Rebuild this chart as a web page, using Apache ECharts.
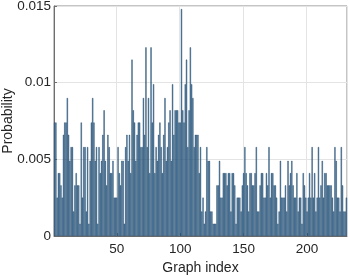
<!DOCTYPE html>
<html>
<head>
<meta charset="utf-8">
<script src="https://cdn.jsdelivr.net/npm/echarts@6/dist/echarts.min.js"></script>
<style>
html,body{margin:0;padding:0;background:#fff;}
#chart{width:349px;height:276px;}
</style>
</head>
<body>
<div id="chart"></div>
<script>
const probabilities = [
0.0074,0.0074,0.0025,0.0041,0.0041,0.0033,0.0025,0.0066,0.0074,0.0074,
0.0090,0.0066,0.0049,0.0058,0.0058,0.0016,0.0033,0.0041,0.0033,0.0033,
0.0008,0.0074,0.0025,0.0058,0.0058,0.0016,0.0058,0.0008,0.0049,0.0074,
0.0090,0.0074,0.0049,0.0058,0.0008,0.0058,0.0041,0.0049,0.0066,0.0082,
0.0049,0.0033,0.0066,0.0058,0.0041,0.0041,0.0049,0.0025,0.0025,0.0025,
0.0058,0.0041,0.0033,0.0049,0.0049,0.0008,0.0058,0.0066,0.0049,0.0066,
0.0041,0.0115,0.0082,0.0074,0.0049,0.0066,0.0074,0.0074,0.0058,0.0058,
0.0090,0.0066,0.0123,0.0058,0.0090,0.0041,0.0123,0.0074,0.0099,0.0041,
0.0058,0.0049,0.0066,0.0074,0.0058,0.0041,0.0066,0.0090,0.0049,0.0058,
0.0074,0.0082,0.0049,0.0099,0.0066,0.0082,0.0082,0.0082,0.0074,0.0074,
0.0148,0.0082,0.0074,0.0099,0.0115,0.0058,0.0082,0.0123,0.0099,0.0090,
0.0058,0.0066,0.0066,0.0066,0.0041,0.0058,0.0016,0.0025,0.0008,0.0016,
0.0058,0.0049,0.0049,0.0016,0.0016,0.0008,0.0008,0.0008,0.0033,0.0033,
0.0049,0.0025,0.0025,0.0041,0.0041,0.0041,0.0033,0.0041,0.0041,0.0016,
0.0041,0.0041,
0.0033,0.0008,0.0025,0.0025,0.0025,0.0016,0.0033,0.0041,0.0058,0.0041,
0.0033,0.0016,0.0041,0.0041,0.0033,0.0033,0.0041,0.0058,0.0016,0.0016,
0.0033,0.0041,0.0041,0.0025,0.0025,0.0041,0.0033,0.0058,0.0025,0.0041,
0.0041,0.0033,0.0033,0.0025,0.0008,0.0016,0.0049,0.0025,0.0025,0.0025,
0.0033,0.0016,0.0049,0.0033,0.0041,
0.0049,0.0033,0.0025,0.0025,0.0041,0.0016,0.0025,0.0025,0.0008,0.0041,
0.0033,0.0025,0.0016,0.0025,0.0041,0.0025,0.0058,0.0025,0.0041,0.0016,
0.0025,0.0058,0.0025,0.0033,0.0049,0.0025,0.0041,0.0041,0.0033,0.0033,
0.0033,0.0033,0.0025,0.0016,0.0058,0.0049,0.0025,0.0025,0.0016,0.0058,
0.0033,0.0016,0.0016,0.0025
];
const graphIndex = probabilities.map((_, i) => String(i + 1));
const xTickLabels = ['50', '100', '150', '200'];
const yTickValues = [0, 0.005, 0.01, 0.015];
const yTickLabels = ['0', '0.005', '0.01', '0.015'];
const xTitle = 'Graph index';
const yTitle = 'Probability';

const chart = echarts.init(document.getElementById('chart'), null, {renderer: 'canvas'});
const isTick = (idx, val) => xTickLabels.includes(String(val));
const font = 'Liberation Sans, Arial, Helvetica, sans-serif';
chart.setOption({
  animation: false,
  grid: {left: 54, right: 2, top: 6, bottom: 40, containLabel: false, outerBoundsMode: 'none',
         show: true, borderColor: '#8a8a8a', borderWidth: 1},
  xAxis: {
    type: 'category',
    data: graphIndex,
    boundaryGap: true,
    name: xTitle,
    nameLocation: 'middle',
    nameGap: 25,
    nameMoveOverlap: false,
    nameTextStyle: {fontSize: 14, color: '#262626', fontFamily: font},
    axisLine: {show: true, lineStyle: {color: '#6e6e6e', width: 1}},
    axisTick: {show: true, inside: true, length: 3, alignWithLabel: true, interval: isTick, lineStyle: {color: '#6e6e6e'}},
    axisLabel: {interval: isTick, fontSize: 13.5, color: '#262626', margin: 6, fontFamily: font},
    splitLine: {show: true, interval: isTick, lineStyle: {color: '#e4e4e4', width: 1}}
  },
  yAxis: {
    type: 'value',
    min: 0,
    max: 0.015,
    interval: 0.005,
    name: yTitle,
    nameLocation: 'middle',
    nameGap: 39,
    nameMoveOverlap: false,
    nameTextStyle: {fontSize: 14, color: '#262626', fontFamily: font},
    axisLine: {show: true, lineStyle: {color: '#6e6e6e', width: 1}},
    axisTick: {show: true, inside: true, length: 3, lineStyle: {color: '#6e6e6e'}},
    axisLabel: {
      fontSize: 13.5, color: '#262626', margin: 3, fontFamily: font,
      formatter: v => {
        const i = yTickValues.findIndex(t => Math.abs(t - v) < 1e-9);
        return i >= 0 ? yTickLabels[i] : '';
      }
    },
    splitLine: {show: true, lineStyle: {color: '#e4e4e4', width: 1}}
  },
  series: [{
    type: 'bar',
    data: probabilities,
    barCategoryGap: '5%',
    itemStyle: {color: '#4282ba', borderColor: '#1f3a52', borderWidth: 0.4}
  }]
});
</script>
</body>
</html>
